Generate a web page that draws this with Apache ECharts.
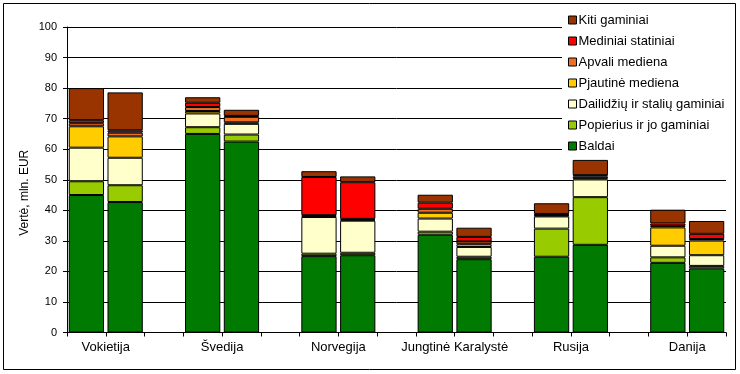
<!DOCTYPE html>
<html>
<head>
<meta charset="utf-8">
<script src="https://cdn.jsdelivr.net/npm/echarts@6/dist/echarts.min.js"></script>
<style>html,body{margin:0;padding:0;background:#fff}#c{width:740px;height:374px}</style>
</head>
<body>
<div id="c"></div>
<script>
// Countries (each has two bars)
var countries = ['Vokietija', 'Švedija', 'Norvegija', 'Jungtinė Karalystė', 'Rusija', 'Danija'];
var yTicks = [0, 10, 20, 30, 40, 50, 60, 70, 80, 90, 100];

// Values, mln. EUR: pairs per country in the order above
var baldai    = [45, 42.7, 65, 62.5, 25, 25.3, 32, 24, 24.8, 28.7, 22.8, 21];
var popierius = [4.5, 5.5, 2.2, 2.3, 0.8, 0.8, 1, 0.8, 9.2, 15.6, 1.8, 0.8];
var dailidziu = [11, 9, 4.5, 3.5, 12, 10.5, 4.3, 3.2, 4, 5.8, 3.8, 3.5];
var pjautine  = [7, 7, 0.8, 0.5, 0.3, 0.3, 1.9, 0.9, 0.3, 0.4, 6, 4.8];
var apvali    = [1, 1.2, 1.3, 1.8, 0.3, 0.3, 1.3, 0.9, 0.2, 0.6, 0.5, 0.5];
var mediniai  = [1, 0.8, 1.4, 0.3, 12.5, 12, 2, 1.5, 0.3, 0.4, 0.8, 1.7];
var kiti      = [10.5, 12.4, 1.8, 2, 1.9, 1.9, 2.6, 3, 3.5, 5, 4.5, 4.2];

var seriesNames = ['Baldai', 'Popierius ir jo gaminiai', 'Dailidžių ir stalių gaminiai', 'Pjautinė mediena', 'Apvali mediena', 'Mediniai statiniai', 'Kiti gaminiai'];
var seriesValues = [baldai, popierius, dailidziu, pjautine, apvali, mediniai, kiti];
var colors = ['#007A00', '#99CC00', '#FFFFCC', '#FFCC00', '#EE6E22', '#FF0000', '#993300'];

// Build category slots: two bars per country, an empty slot between countries
var slots = [];
for (var i = 0; i < countries.length; i++) {
  slots.push(countries[i] + ' 1', countries[i] + ' 2');
  if (i < countries.length - 1) slots.push('gap' + i);
}
function expand(vals) {
  var out = [];
  for (var i = 0; i < countries.length; i++) {
    out.push(vals[2 * i], vals[2 * i + 1]);
    if (i < countries.length - 1) out.push('-');
  }
  return out;
}
var labelPos = countries.map(function (c, i) { return 3 * i + 1; });

var series = seriesNames.map(function (n, k) {
  return {
    name: n, type: 'bar', stack: 'total', xAxisIndex: 0,
    data: expand(seriesValues[k]),
    barCategoryGap: '9%',
    itemStyle: { color: colors[k], borderColor: '#000', borderWidth: 1 }
  };
});

var chart = echarts.init(document.getElementById('c'));
chart.setOption({
  animation: false,
  textStyle: { fontFamily: 'Liberation Sans, Arial, sans-serif' },
  grid: { left: 67, right: 14, top: 27, bottom: 41.5, containLabel: false },
  legend: {
    orient: 'vertical', left: 562, top: 8,
    padding: [5, 8, 5, 6],
    backgroundColor: '#fff',
    data: seriesNames.slice().reverse(),
    itemWidth: 8, itemHeight: 8, itemGap: 7,
    icon: 'rect',
    itemStyle: { borderColor: '#000', borderWidth: 1 },
    textStyle: { fontSize: 13, color: '#000', lineHeight: 14, padding: [0, 0, 0, -3] }
  },
  xAxis: [{
    type: 'category', data: slots, boundaryGap: true,
    axisLine: { lineStyle: { color: '#000', width: 1 } },
    axisTick: { show: true, interval: 0, length: 4, lineStyle: { color: '#000' } },
    axisLabel: { show: false },
    splitLine: { show: false }
  }, {
    type: 'value', min: 0, max: slots.length, position: 'bottom',
    axisLine: { show: false }, axisTick: { show: false }, splitLine: { show: false },
    axisLabel: {
      customValues: labelPos, margin: 8, fontSize: 13, color: '#000',
      formatter: function (v) { return countries[Math.round((v - 1) / 3)]; }
    }
  }],
  yAxis: {
    type: 'value', min: 0, max: 100, interval: 10,
    name: 'Vertė, mln. EUR', nameLocation: 'middle', nameGap: 36, nameMoveOverlap: false,
    nameTextStyle: { fontSize: 12, color: '#000', padding: [0, 26, 0, 0] },
    axisLine: { show: true, lineStyle: { color: '#000' } },
    axisTick: { show: true, length: 4, lineStyle: { color: '#000' } },
    axisLabel: { fontSize: 11, color: '#000', margin: 10, formatter: function (v) { return yTicks.indexOf(v) >= 0 ? String(v) : ''; } },
    splitLine: { show: true, lineStyle: { color: '#000', width: 1 } }
  },
  graphic: [{
    type: 'rect', shape: { x: 3.5, y: 3.5, width: 732, height: 366 },
    style: { fill: 'none', stroke: '#000', lineWidth: 1 }, silent: true, z: 100
  }],
  series: series
});
</script>
</body>
</html>
